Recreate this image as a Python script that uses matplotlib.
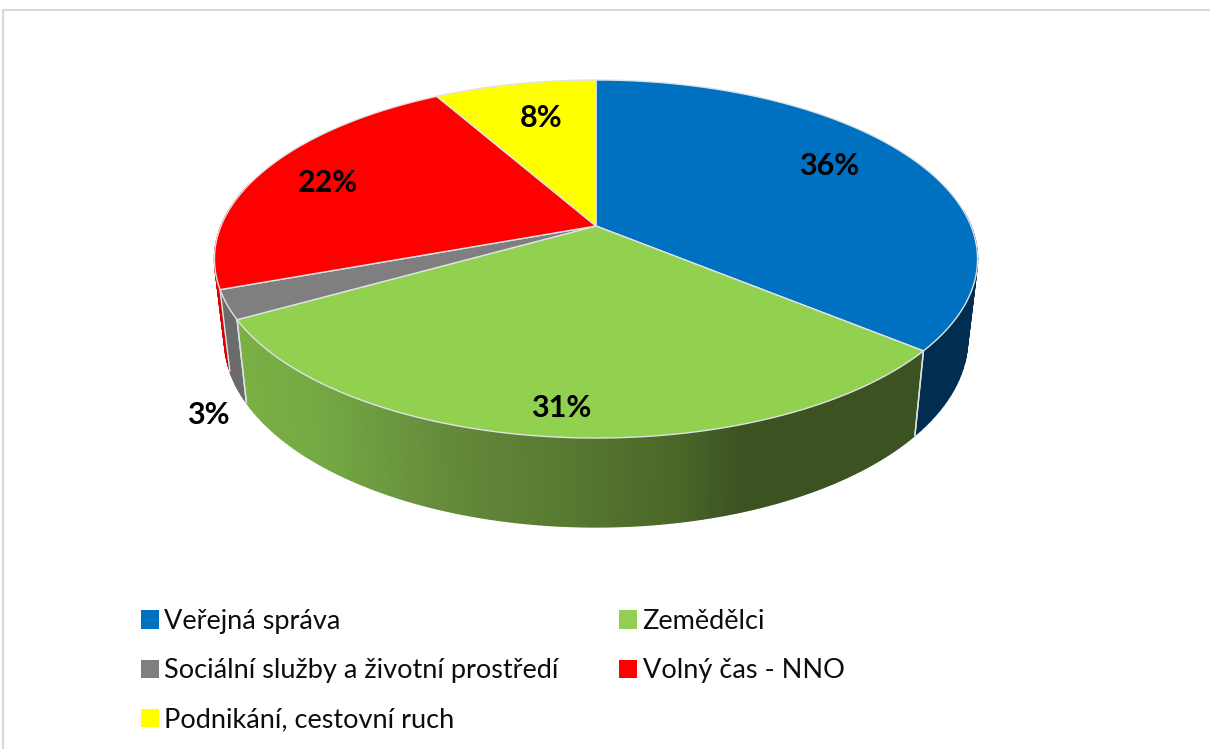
import numpy as np
import matplotlib
matplotlib.use("Agg")
import matplotlib.pyplot as plt
from matplotlib.patches import Patch
from matplotlib.colors import to_rgb

# ---- data ----
categories = ["Veřejná správa", "Zemědělci", "Sociální služby a životní prostředí",
              "Volný čas - NNO", "Podnikání, cestovní ruch"]
shares = [36.0, 30.8, 2.6, 22.4, 8.2]
colors = ["#0070C0", "#92D050", "#7F7F7F", "#FF0000", "#FFFF00"]
side_colors = ["#002D50", "#3D5220", "#6B6B6B", "#E00000", "#D0D000"]

# ---- layout / projection of the tilted disc ----
W, H = 1210, 749
CX, CY, R = 596.0, 226.0, 375.0
K, B = 0.1844, -131.25
BOT_X, BOT_A, BOT_B = 0.974, 67.0, 1.05
LABEL_XY = [(829, 166), (561, 408), (208, 415), (328, 183), (541, 118)]
EDGE = "#DDE3E6"

plt.rcParams["font.family"] = ["Lato", "DejaVu Sans"]
fig = plt.figure(figsize=(W / 100, H / 100), dpi=100)
ax = fig.add_axes([0, 0, 1, 1])
ax.set_xlim(0, W)
ax.set_ylim(H, 0)
ax.axis("off")


def top(theta, r=1.0):
    X, Y = r * np.sin(theta), r * np.cos(theta)
    d = 1 + K * Y
    return CX + R * X / d, (CY + B * Y) / d


def bottom(theta):
    x, y = top(theta)
    return CX + BOT_X * (x - CX), BOT_A + BOT_B * y


def green_shade(x):
    stops_x = [246, 327, 457, 588, 675, 740, 914]
    stops_c = ["#7BB044", "#74A843", "#63893A", "#55762F", "#4A6728", "#3C5220", "#3C5220"]
    rgb = np.array([to_rgb(c) for c in stops_c])
    return tuple(np.interp(x, stops_x, rgb[:, i]) for i in range(3))


edges = np.concatenate([[0], np.cumsum(shares)]) / sum(shares) * 2 * np.pi
spans = list(zip(edges[:-1], edges[1:]))
FRONT_LIMIT = np.deg2rad(285)

# sides, back to front: red, grey, then blue, then green
for i in (3, 2, 0, 1):
    a, b = spans[i]
    if i == 0:
        a = np.deg2rad(85)
    if i == 3:
        b = min(b, FRONT_LIMIT)
    th = np.linspace(a, b, 220 if i == 1 else 30)
    xt, yt = top(th)
    xb, yb = bottom(th)
    z = 2 if i == 1 else 1.5
    for j in range(len(th) - 1):
        xs = [xt[j], xt[j + 1], xb[j + 1], xb[j]]
        ys = [yt[j], yt[j + 1], yb[j + 1], yb[j]]
        c = green_shade(xb[j]) if i == 1 else side_colors[i]
        ax.fill(xs, ys, facecolor=c, edgecolor=c, lw=1.0, zorder=z)
    if i in (0, 1, 2):
        for t in (a, b):
            if i == 0 and t == a:
                continue
            xa, ya = top(t)
            xc, yc = bottom(t)
            ax.plot([xa, xc], [ya, yc], color=EDGE, lw=1, zorder=2.5)

# top faces
for (a, b), c in zip(spans, colors):
    th = np.linspace(a, b, 160)
    x, y = top(th)
    ax.fill(np.r_[CX, x], np.r_[CY, y], facecolor=c, edgecolor=EDGE, lw=1,
            joinstyle="round", zorder=3)

# value labels
for v, (lx, ly) in zip(shares, LABEL_XY):
    ax.text(lx, ly, f"{v:.0f}%", ha="center", va="center", fontsize=22,
            fontweight="bold", color="#000000", zorder=5)

# legend (filled column-wise, so reordered to read row by row)
order = [0, 2, 4, 1, 3]
handles = [Patch(facecolor=colors[i], edgecolor="none", label=categories[i]) for i in order]
fig.legend(handles=handles, ncol=2, loc="upper left",
           bbox_to_anchor=(141 / W, 1 - 609 / H), bbox_transform=fig.transFigure,
           frameon=False, fontsize=19.5, borderpad=0, borderaxespad=0,
           handlelength=0.665, handleheight=0.665, handletextpad=0.2,
           labelspacing=0.895, columnspacing=2.23, labelcolor="#0D0D0D")

# chart frame (open on the right and at the bottom, cropped by the picture)
ax.plot([2.5, 2.5, W], [H, 9.5, 9.5], color="#D9D9D9", lw=1.5, zorder=1, clip_on=False)

fig.savefig("out.png", dpi=100)
